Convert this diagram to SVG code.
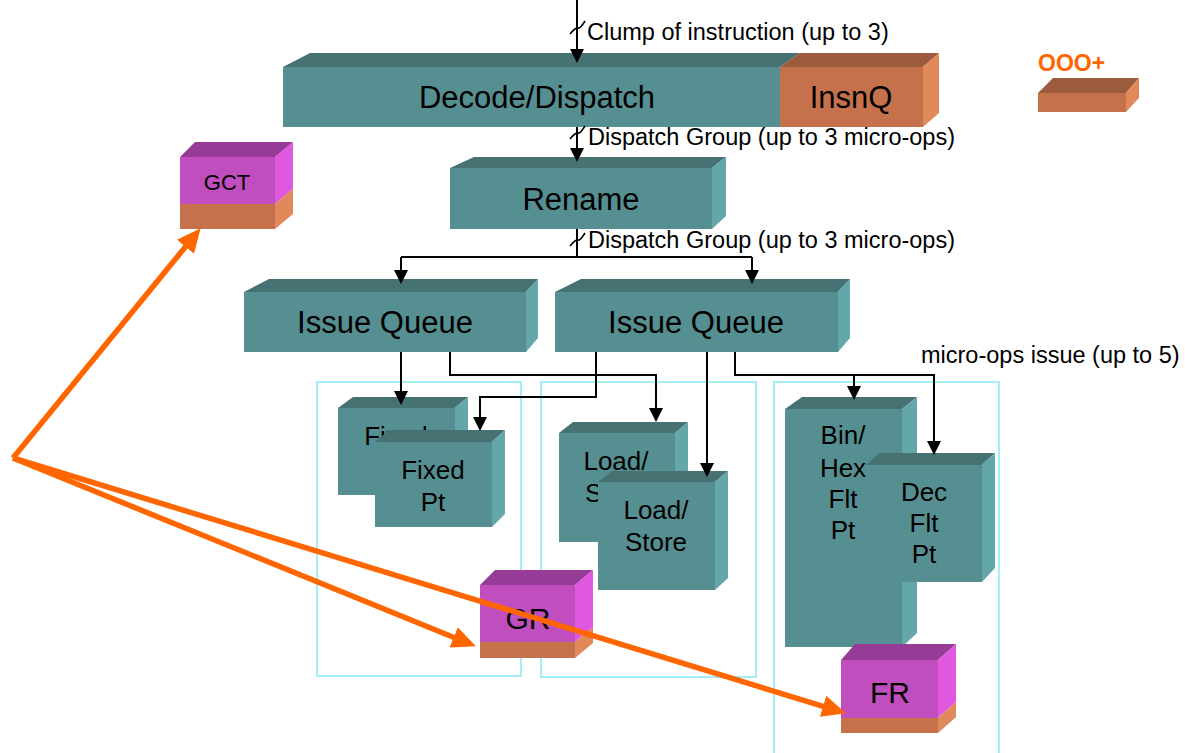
<svg xmlns="http://www.w3.org/2000/svg" width="1185" height="753" viewBox="0 0 1185 753">
<style>
.tf{fill:#568F91}.tt{fill:#467273}.tr{fill:#63A7AB}
.of{fill:#C5724C}.ot{fill:#9C5B3C}.or{fill:#E2895C}
.mf{fill:#C04EBF}.mt{fill:#963C96}.mr{fill:#E058E0}
.lbl{font-family:"Liberation Sans",Arial,sans-serif;fill:#000;text-anchor:middle}
.big{font-size:31px}.mid{font-size:26px}.sm{font-size:23.5px;text-anchor:start}
.cont{fill:none;stroke:#8EEAF3;stroke-width:1.6}
.conn{fill:none;stroke:#000;stroke-width:2}
.tick{fill:none;stroke:#000;stroke-width:1.6}
.oarr{fill:none;stroke:#FF6600;stroke-width:5.5;stroke-linejoin:miter}
</style>
<defs>
<marker id="ah" markerUnits="userSpaceOnUse" markerWidth="14" markerHeight="14" viewBox="0 0 14 14" refX="1" refY="7" orient="auto">
<path d="M0,0 L14,7 L0,14 z" fill="#000"/>
</marker>
<marker id="oh" markerUnits="userSpaceOnUse" markerWidth="24" markerHeight="22" viewBox="0 0 24 22" refX="1" refY="11" orient="auto">
<path d="M0,0 L24,11 L0,22 z" fill="#FF6600"/>
</marker>
<clipPath id="lsclip"><polygon points="540,420 700,420 700,471 612,471 598,482 598,600 540,600"/></clipPath>
</defs>
<rect width="1185" height="753" fill="#fff"/>

<g id="containers">
<rect class="cont" x="317" y="382" width="204" height="294"/>
<rect class="cont" x="541" y="382" width="215" height="295"/>
<rect class="cont" x="774" y="382" width="225" height="380"/>
</g>

<g id="decode">
<polygon class="tt" points="283,67 310,53 800,53 780,67"/>
<rect class="tf" x="283" y="67" width="497" height="60"/>
<text class="lbl big" x="537" y="108">Decode/Dispatch</text>
</g>
<g id="insnq">
<polygon class="ot" points="780,67 800,53 939,53 923,67"/>
<polygon class="or" points="923,67 939,53 939,113 923,127"/>
<rect class="of" x="780" y="67" width="143" height="60"/>
<text class="lbl big" x="851" y="108">InsnQ</text>
</g>

<g id="ooo-legend">
<text x="1038" y="71" font-family="Liberation Sans, Arial, sans-serif" font-weight="bold" font-size="23" fill="#FF6600">OOO+</text>
<polygon class="ot" points="1038,93 1053,78 1139,78 1126,93"/>
<polygon class="or" points="1126,93 1139,78 1139,98 1126,112"/>
<rect class="of" x="1038" y="93" width="88" height="19"/>
</g>

<g id="rename">
<polygon class="tt" points="450,168 474,157 726,157 712,168"/>
<polygon class="tr" points="712,168 726,157 726,216 712,229"/>
<rect class="tf" x="450" y="168" width="262" height="61"/>
<text class="lbl big" x="581" y="210">Rename</text>
</g>

<g id="issue-queue-1">
<polygon class="tt" points="244,292 269,279 538,279 526,292"/>
<polygon class="tr" points="526,292 538,279 538,338 526,352"/>
<rect class="tf" x="244" y="292" width="282" height="60"/>
<text class="lbl big" x="385" y="333">Issue Queue</text>
</g>
<g id="issue-queue-2">
<polygon class="tt" points="555,292 581,279 850,279 838,292"/>
<polygon class="tr" points="838,292 850,279 850,338 838,352"/>
<rect class="tf" x="555" y="292" width="283" height="60"/>
<text class="lbl big" x="696" y="333">Issue Queue</text>
</g>

<g id="fixed-pt-1">
<polygon class="tt" points="338,408 353,397 468,397 455,408"/>
<polygon class="tr" points="455,408 468,397 468,483 455,495"/>
<rect class="tf" x="338" y="408" width="117" height="87"/>
<text class="lbl mid" x="396" y="445">Fixed</text>
</g>
<g id="fixed-pt-2">
<polygon class="tt" points="375,442 389,430 505,430 492,442"/>
<polygon class="tr" points="492,442 505,430 505,514 492,527"/>
<rect class="tf" x="375" y="442" width="117" height="85"/>
<text class="lbl mid" x="433" y="479">Fixed</text>
<text class="lbl mid" x="433" y="511">Pt</text>
</g>

<g id="load-store-1">
<polygon class="tt" points="559,433 573,422 688,422 675,433"/>
<polygon class="tr" points="675,433 688,422 688,530 675,542"/>
<rect class="tf" x="559" y="433" width="116" height="109"/>
<text class="lbl mid" x="616" y="470">Load/</text>
<text class="lbl mid" x="616" y="502" clip-path="url(#lsclip)">Store</text>
</g>
<g id="load-store-2">
<polygon class="tt" points="598,482 612,471 728,471 715,482"/>
<polygon class="tr" points="715,482 728,471 728,578 715,590"/>
<rect class="tf" x="598" y="482" width="117" height="108"/>
<text class="lbl mid" x="656" y="519">Load/</text>
<text class="lbl mid" x="656" y="551">Store</text>
</g>

<g id="bin-hex-flt-pt">
<polygon class="tt" points="785,409 802,397 917,397 902,409"/>
<polygon class="tr" points="902,409 917,397 917,633 902,647"/>
<rect class="tf" x="785" y="409" width="117" height="238"/>
<text class="lbl mid" x="843" y="444">Bin/</text>
<text class="lbl mid" x="843" y="477">Hex</text>
<text class="lbl mid" x="843" y="508">Flt</text>
<text class="lbl mid" x="843" y="539">Pt</text>
</g>
<g id="dec-flt-pt">
<polygon class="tt" points="866,465 880,453 995,453 982,465"/>
<polygon class="tr" points="982,465 995,453 995,568 982,582"/>
<rect class="tf" x="866" y="465" width="116" height="117"/>
<text class="lbl mid" x="924" y="501">Dec</text>
<text class="lbl mid" x="924" y="532">Flt</text>
<text class="lbl mid" x="924" y="563">Pt</text>
</g>

<g id="gct">
<polygon class="mt" points="180,157 195,142 293,142 275,157"/>
<polygon class="mr" points="275,157 293,142 293,189 275,204"/>
<polygon class="or" points="275,204 293,189 293,214 275,229"/>
<rect class="mf" x="180" y="157" width="95" height="47"/>
<rect class="of" x="180" y="204" width="95" height="25"/>
<text class="lbl" font-size="22" x="227" y="190">GCT</text>
</g>

<g id="gr">
<polygon class="mt" points="480,585 495,570 593,570 575,585"/>
<polygon class="mr" points="575,585 593,570 593,627 575,642"/>
<polygon class="or" points="575,642 593,627 593,643 575,658"/>
<rect class="mf" x="480" y="585" width="95" height="57"/>
<rect class="of" x="480" y="642" width="95" height="16"/>
<text class="lbl" font-size="30" x="528" y="629">GR</text>
</g>

<g id="fr">
<polygon class="mt" points="841,660 855,644 956,644 938,660"/>
<polygon class="mr" points="938,660 956,644 956,702 938,718"/>
<polygon class="or" points="938,718 956,702 956,717 938,733"/>
<rect class="mf" x="841" y="660" width="97" height="58"/>
<rect class="of" x="841" y="718" width="97" height="15"/>
<text class="lbl" font-size="30" x="890" y="703">FR</text>
</g>

<g id="connectors">
<path class="conn" d="M577,0 V50" marker-end="url(#ah)"/>
<path class="conn" d="M577,127 V149" marker-end="url(#ah)"/>
<path class="conn" d="M577,229 V257 M401,257 H752"/>
<path class="conn" d="M401,257 V271" marker-end="url(#ah)"/>
<path class="conn" d="M752,257 V271" marker-end="url(#ah)"/>
<path class="conn" d="M401,352 V392" marker-end="url(#ah)"/>
<path class="conn" d="M450,352 V375 H656 V409" marker-end="url(#ah)"/>
<path class="conn" d="M596,352 V397 H480 V418" marker-end="url(#ah)"/>
<path class="conn" d="M707,352 V464" marker-end="url(#ah)"/>
<path class="conn" d="M735,352 V375 H934 V442" marker-end="url(#ah)"/>
<path class="conn" d="M854,375 V387" marker-end="url(#ah)"/>
<path class="tick" d="M570,34 Q576,27 578,28 T585,21"/>
<path class="tick" d="M570,139 Q576,132 578,133 T585,126"/>
<path class="tick" d="M570,246 Q576,239 578,240 T585,233"/>
<text class="lbl sm" x="587" y="40">Clump of instruction (up to 3)</text>
<text class="lbl sm" x="588" y="145">Dispatch Group (up to 3 micro-ops)</text>
<text class="lbl sm" x="588" y="248">Dispatch Group (up to 3 micro-ops)</text>
<text class="lbl sm" x="921" y="363">micro-ops issue (up to 5)</text>
</g>

<g id="orange-arrows">
<path class="oarr" d="M13,458 L186.1,246" marker-end="url(#oh)"/>
<path class="oarr" d="M13,458 L454.6,637.7" marker-end="url(#oh)"/>
<path class="oarr" d="M13,458 L824,706.6" marker-end="url(#oh)"/>
</g>
</svg>
